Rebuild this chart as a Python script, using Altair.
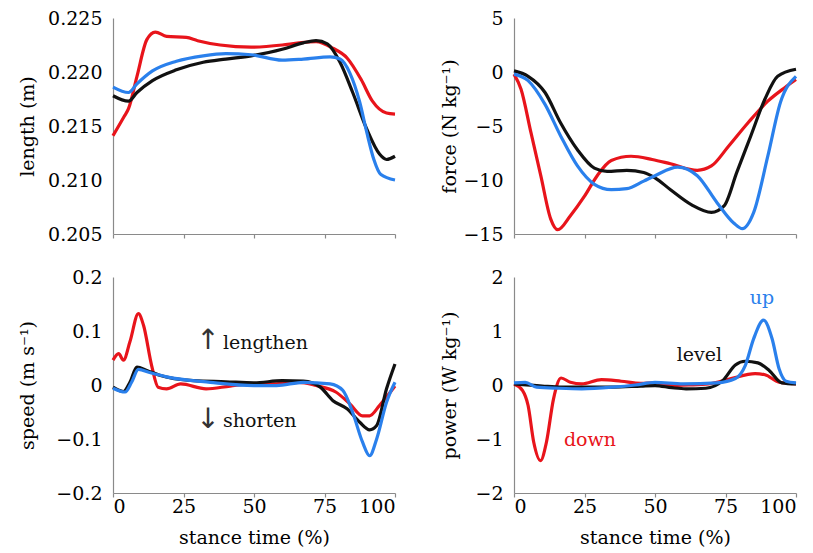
import altair as alt
import pandas as pd

# ---------------- data ----------------
STANCE_TICKS = [0, 25, 50, 75, 100]

# length (m)
len_down_t = [0, 4, 5.5, 8.5, 12, 15, 19, 26, 30, 38, 49, 60, 66, 72, 78, 83, 88, 92, 97, 100]
len_down_v = [0.2141, 0.2159, 0.2166, 0.2196, 0.2230, 0.2237, 0.2233, 0.2232, 0.2229, 0.2225,
              0.2223, 0.2225, 0.2227, 0.2228, 0.2222, 0.2213, 0.2193, 0.2173, 0.2162, 0.2161]
len_level_t = [0, 5.5, 8.5, 14, 22.5, 32, 40, 49, 60, 67.5, 72, 76, 80.5, 85, 90, 94.5, 97, 100]
len_level_v = [0.2178, 0.2173, 0.2181, 0.2192, 0.2202, 0.2209, 0.2212, 0.2215, 0.2221, 0.2227,
               0.2229, 0.2226, 0.2209, 0.2181, 0.2147, 0.2124, 0.2119, 0.2122]
len_up_t = [0, 5.5, 8.5, 14, 22.5, 32, 40, 49, 60, 67.5, 77, 80.5, 84, 87.5, 90, 92.5, 95, 100]
len_up_v = [0.2186, 0.2181, 0.2189, 0.2201, 0.2210, 0.2215, 0.2217, 0.2216, 0.2211, 0.2212,
            0.2214, 0.2212, 0.2199, 0.2172, 0.2144, 0.2119, 0.2105, 0.2100]

# force (N kg-1)
frc_down_t = [0, 2.5, 6, 9.5, 13, 15.5, 20, 25, 29.5, 34.5, 41.5, 49, 55.5, 65, 70, 76, 83, 90, 96, 100]
frc_down_v = [-0.2, -1.6, -5.6, -9.6, -13.6, -14.6, -13.3, -11.5, -9.6, -8.2, -7.8, -8.1, -8.5,
              -9.1, -8.7, -6.9, -4.7, -2.7, -1.45, -0.7]
frc_level_t = [0, 5, 11, 16.5, 22.5, 28.5, 33, 40, 46, 50, 55.5, 63, 70, 74.5, 79, 84, 89, 93.5, 100]
frc_level_v = [0.1, -0.4, -1.9, -4.7, -7.2, -8.9, -9.2, -9.1, -9.3, -9.8, -10.9, -12.3, -13.0,
               -12.4, -9.3, -5.9, -2.5, -0.4, 0.25]
frc_up_t = [0, 5, 11, 16.5, 22.5, 28.5, 34.5, 40, 46, 50, 58, 65, 72, 78, 81, 85, 90, 94.5, 100]
frc_up_v = [-0.2, -0.8, -3.0, -5.9, -8.7, -10.4, -10.9, -10.8, -10.1, -9.6, -8.8, -9.6, -12.1,
            -14.0, -14.5, -13.0, -7.8, -2.8, -0.4]

# speed (m s-1)
spd_down_t = [0, 2, 3.7, 6, 9, 10.8, 13.7, 16, 19, 24, 33, 41.5, 49, 57, 66, 72, 79, 84, 88.5, 91, 94.5, 100]
spd_down_v = [0.046, 0.058, 0.046, 0.080, 0.132, 0.111, 0.036, -0.004, -0.007, 0.002, -0.007,
              -0.002, 0.002, 0.002, 0.005, -0.001, -0.013, -0.035, -0.057, -0.057, -0.038, -0.002]
spd_level_t = [0, 3.7, 6, 8.5, 12, 16.5, 28.5, 40, 50, 60, 67.5, 73.5, 78, 83, 87.5, 91, 93.5, 97, 100]
spd_level_v = [-0.004, -0.012, 0.005, 0.033, 0.027, 0.018, 0.008, 0.006, 0.004, 0.008, 0.007,
               -0.004, -0.029, -0.044, -0.069, -0.083, -0.075, -0.007, 0.039]
spd_up_t = [0, 4.3, 6.6, 9, 13, 19, 34.5, 50, 58, 67.5, 77, 81.5, 85, 88.5, 91, 93.5, 97, 100]
spd_up_v = [-0.006, -0.013, 0.005, 0.029, 0.023, 0.015, 0.005, -0.001, -0.001, 0.005, 0.002,
            -0.010, -0.051, -0.106, -0.131, -0.100, -0.032, 0.005]

# power (W kg-1)
pow_down_t = [0, 3, 5, 7, 9.4, 11.5, 14, 16.7, 20, 24, 31, 38, 45, 50, 55, 62, 69, 77, 85.5, 89, 94, 100]
pow_down_v = [0.02, -0.10, -0.38, -1.06, -1.40, -1.06, -0.26, 0.13, 0.05, 0.02, 0.10, 0.07, 0.03,
              0.04, -0.01, 0.0, 0.02, 0.12, 0.21, 0.19, 0.05, 0.02]
pow_level_t = [0, 10, 17, 25, 35, 45, 50, 56, 61, 68, 74, 78.5, 82, 86.5, 90.5, 95, 100]
pow_level_v = [0.02, -0.02, -0.04, -0.04, -0.04, -0.02, -0.01, -0.05, -0.07, -0.06, 0.08, 0.37,
               0.44, 0.41, 0.27, 0.04, 0.02]
pow_up_t = [0, 4, 8, 16, 24, 35, 43, 50, 60, 72, 78.5, 82, 85, 88.5, 91.5, 94, 96.5, 100]
pow_up_v = [0.04, 0.05, -0.04, -0.06, -0.07, -0.04, 0.0, 0.05, 0.02, 0.04, 0.12, 0.36, 0.86,
            1.20, 0.86, 0.30, 0.07, 0.04]

# annotations
spd_note_text = ["lengthen", "shorten"]
spd_note_t = [39, 39]
spd_note_v = [0.078, -0.066]
spd_arrow_text = ["\u2191", "\u2193"]
spd_arrow_t = [33.7, 33.7]
spd_arrow_v = [0.081, -0.064]

pow_note_text = ["down", "level", "up"]
pow_note_t = [17.7, 57.7, 83.6]
pow_note_v = [-1.02, 0.56, 1.62]
pow_note_cond = ["down", "level", "up"]

# ---------------- styling ----------------
COND = ["level", "up", "down"]
COLORS = ["#111111", "#2a80ec", "#e8141b"]
FONT = "DejaVu Serif"
FS = 19
W, H = 282, 216
GREY = "#8a8a8a"


def frame(series):
    rows = []
    for name, ts, vs in series:
        for t, v in zip(ts, vs):
            rows.append({"t": t, "v": v, "cond": name})
    return pd.DataFrame(rows)


def panel(df, ydomain, yvalues, yfmt, ytitle, bottom, extent, tpad):
    common = dict(labelFont=FONT, titleFont=FONT, labelFontSize=FS, titleFontSize=FS,
                  labelColor="#000000", titleColor="#000000", titleFontWeight="normal",
                  domainColor=GREY, tickColor=GREY, domainWidth=1.2, tickWidth=1.2, grid=False)
    xaxis = alt.Axis(values=STANCE_TICKS, labels=bottom, title="stance time (%)" if bottom else None,
                     tickSize=4, ticks=True, labelPadding=0, titlePadding=12, **common)
    yaxis = alt.Axis(values=yvalues, format=yfmt, title=ytitle, ticks=False, tickSize=0,
                     labelPadding=11, minExtent=extent, maxExtent=extent, titlePadding=tpad,
                     **common)
    return alt.Chart(df).mark_line(strokeWidth=3.2, interpolate="monotone").encode(
        x=alt.X("t:Q", scale=alt.Scale(domain=[0, 100], nice=False), axis=xaxis),
        y=alt.Y("v:Q", scale=alt.Scale(domain=ydomain, nice=False, zero=False), axis=yaxis),
        color=alt.Color("cond:N", scale=alt.Scale(domain=COND, range=COLORS), legend=None),
    )


len_df = frame([("down", len_down_t, len_down_v), ("level", len_level_t, len_level_v), ("up", len_up_t, len_up_v)])
frc_df = frame([("down", frc_down_t, frc_down_v), ("level", frc_level_t, frc_level_v), ("up", frc_up_t, frc_up_v)])
spd_df = frame([("down", spd_down_t, spd_down_v), ("level", spd_level_t, spd_level_v), ("up", spd_up_t, spd_up_v)])
pow_df = frame([("down", pow_down_t, pow_down_v), ("level", pow_level_t, pow_level_v), ("up", pow_up_t, pow_up_v)])

p_len = panel(len_df, [0.205, 0.225], [0.205, 0.21, 0.215, 0.22, 0.225], ".3f", "length (m)", False, 66, 10)
p_frc = panel(frc_df, [-15, 5], [-15, -10, -5, 0, 5], "d", "force (N kg\u207b\u00b9)", False, 51, 4)
p_spd = panel(spd_df, [-0.2, 0.2], [-0.2, -0.1, 0, 0.1, 0.2], "~g", "speed (m s\u207b\u00b9)", True, 66, 10)
p_pow = panel(pow_df, [-2, 2], [-2, -1, 0, 1, 2], "d", "power (W kg\u207b\u00b9)", True, 51, 4)

spd_notes = alt.Chart(pd.DataFrame({"t": spd_note_t, "v": spd_note_v, "label": spd_note_text})).mark_text(
    align="left", baseline="middle", font=FONT, fontSize=FS, color="#111111"
).encode(x="t:Q", y="v:Q", text="label:N")
spd_arrows = alt.Chart(pd.DataFrame({"t": spd_arrow_t, "v": spd_arrow_v, "label": spd_arrow_text})).mark_text(
    align="center", baseline="middle", font="DejaVu Sans", fontSize=28, color="#333333"
).encode(x="t:Q", y="v:Q", text="label:N")
pow_notes = alt.Chart(pd.DataFrame({"t": pow_note_t, "v": pow_note_v, "label": pow_note_text,
                                    "cond": pow_note_cond})).mark_text(
    align="left", baseline="middle", font=FONT, fontSize=FS
).encode(x="t:Q", y="v:Q", text="label:N",
         color=alt.Color("cond:N", scale=alt.Scale(domain=COND, range=COLORS), legend=None))

top_left = p_len.properties(width=W, height=H)
top_right = p_frc.properties(width=W, height=H)
bot_left = alt.layer(p_spd, spd_arrows, spd_notes).properties(width=W, height=H)
bot_right = alt.layer(p_pow, pow_notes).properties(width=W, height=H)

chart = alt.concat(top_left, top_right, bot_left, bot_right, columns=2,
                   spacing={"row": 24, "column": 38}).properties(
    padding={"left": 10, "top": 1, "right": 0, "bottom": 0}
).configure_view(stroke=None)

chart.save("out.html", embed_options={"renderer": "svg", "actions": False})
